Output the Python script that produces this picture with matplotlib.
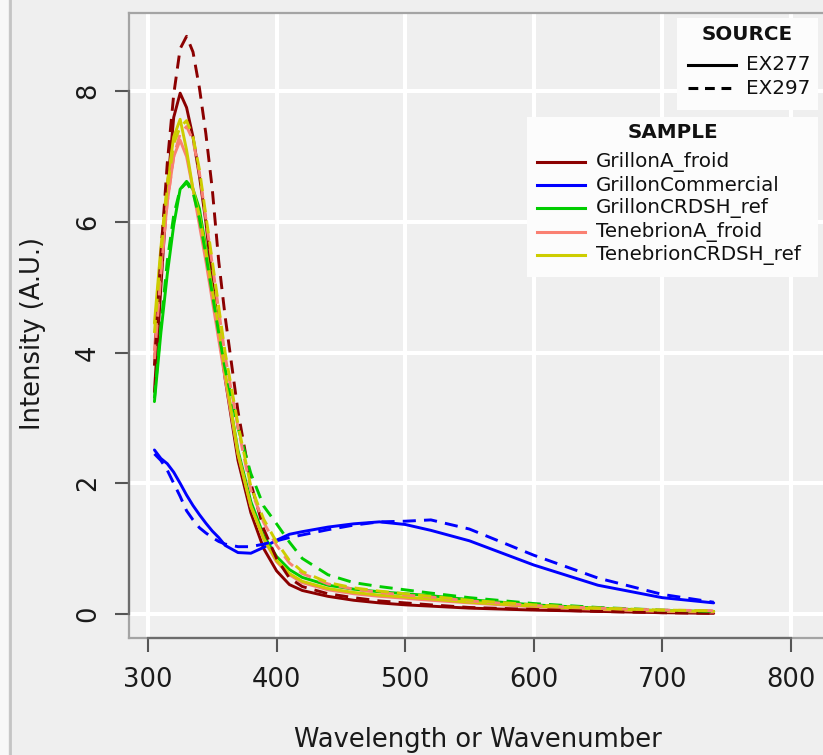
import matplotlib
matplotlib.use("Agg")
import matplotlib.pyplot as plt
from matplotlib.lines import Line2D
from matplotlib.patches import Rectangle

# ---------------- data ----------------
wavelength = [305, 310, 315, 320, 325, 330, 335, 340, 345, 350, 355, 360, 370, 380,
              390, 400, 410, 420, 440, 460, 480, 500, 520, 550, 600, 650, 700, 740]

samples = ["GrillonA_froid", "GrillonCommercial", "GrillonCRDSH_ref",
           "TenebrionA_froid", "TenebrionCRDSH_ref"]
sources = ["EX277", "EX297"]

grillonA_ex277 = [3.40, 5.0, 6.5, 7.6, 7.97, 7.75, 7.3, 6.7, 6.0, 5.1, 4.35, 3.6, 2.35, 1.55,
                  1.0, 0.66, 0.45, 0.36, 0.27, 0.21, 0.17, 0.14, 0.12, 0.09, 0.06, 0.04, 0.02, 0.01]
grillonA_ex297 = [3.8, 5.5, 6.9, 7.95, 8.65, 8.84, 8.6, 8.05, 7.35, 6.5, 5.4, 4.55, 3.1, 2.0,
                  1.3, 0.85, 0.55, 0.42, 0.31, 0.25, 0.2, 0.17, 0.14, 0.1, 0.07, 0.04, 0.02, 0.01]
grillonCom_ex277 = [2.51, 2.38, 2.3, 2.17, 2.0, 1.82, 1.66, 1.52, 1.39, 1.27, 1.17, 1.05, 0.94, 0.93,
                    1.02, 1.13, 1.22, 1.26, 1.33, 1.38, 1.41, 1.37, 1.28, 1.12, 0.75, 0.44, 0.25, 0.17]
grillonCom_ex297 = [2.45, 2.35, 2.2, 2.0, 1.8, 1.58, 1.44, 1.32, 1.24, 1.17, 1.11, 1.07, 1.03, 1.03,
                    1.07, 1.12, 1.17, 1.21, 1.29, 1.36, 1.41, 1.42, 1.44, 1.3, 0.9, 0.55, 0.3, 0.18]
grillonCRDSH_ex277 = [3.25, 4.3, 5.2, 5.95, 6.5, 6.62, 6.5, 6.2, 5.6, 4.95, 4.3, 3.65, 2.5, 1.72,
                      1.2, 0.88, 0.68, 0.56, 0.44, 0.38, 0.34, 0.31, 0.28, 0.22, 0.14, 0.09, 0.05, 0.04]
grillonCRDSH_ex297 = [3.3, 4.4, 5.4, 6.1, 6.5, 6.6, 6.45, 6.05, 5.5, 4.9, 4.3, 3.75, 2.85, 2.15,
                      1.65, 1.38, 1.1, 0.85, 0.6, 0.48, 0.42, 0.37, 0.32, 0.25, 0.16, 0.1, 0.06, 0.04]
tenebrionA_ex277 = [4.04, 5.3, 6.3, 7.0, 7.25, 7.0, 6.5, 5.95, 5.4, 4.8, 4.2, 3.6, 2.45, 1.65,
                    1.15, 0.8, 0.6, 0.48, 0.37, 0.31, 0.27, 0.24, 0.21, 0.17, 0.11, 0.07, 0.04, 0.03]
tenebrionA_ex297 = [3.9, 5.2, 6.3, 7.0, 7.35, 7.46, 7.25, 6.75, 6.05, 5.35, 4.65, 3.95, 2.85, 1.9,
                    1.4, 1.05, 0.78, 0.62, 0.46, 0.38, 0.33, 0.29, 0.26, 0.2, 0.13, 0.09, 0.06, 0.05]
tenebrionCRDSH_ex277 = [4.45, 5.6, 6.6, 7.3, 7.57, 7.1, 6.5, 6.1, 5.55, 4.95, 4.4, 3.7, 2.45, 1.65,
                        1.15, 0.82, 0.62, 0.5, 0.39, 0.33, 0.29, 0.26, 0.23, 0.18, 0.12, 0.08, 0.05, 0.04]
tenebrionCRDSH_ex297 = [4.3, 5.5, 6.5, 7.2, 7.45, 7.55, 7.3, 6.8, 6.1, 5.4, 4.7, 4.0, 2.9, 1.95,
                        1.45, 1.1, 0.82, 0.65, 0.48, 0.4, 0.35, 0.31, 0.27, 0.21, 0.14, 0.09, 0.06, 0.05]

series_ex277 = [grillonA_ex277, grillonCom_ex277, grillonCRDSH_ex277, tenebrionA_ex277, tenebrionCRDSH_ex277]
series_ex297 = [grillonA_ex297, grillonCom_ex297, grillonCRDSH_ex297, tenebrionA_ex297, tenebrionCRDSH_ex297]

sample_colors = ["#8B0000", "#0000FF", "#00CD00", "#FA8072", "#CDCD00"]

x_ticks = [300, 400, 500, 600, 700, 800]
y_ticks = [0, 2, 4, 6, 8]

# ---------------- figure ----------------
W, H = 823, 755
BG = "#efefef"
fig = plt.figure(figsize=(W / 100, H / 100), dpi=100, facecolor=BG)

def fx(px):
    return px / W

def fy(py):
    return 1 - py / H

# left window border strip
fig.add_artist(Rectangle((0, 0), fx(8), 1, transform=fig.transFigure,
                         facecolor="#f8f8f8", edgecolor="none"))
fig.add_artist(Line2D([fx(9.5), fx(9.5)], [0, 1], transform=fig.transFigure,
                      color="#c4c4c4", lw=2))

ax_left, ax_right, ax_top, ax_bot = 129, 823, 13, 638
ax = fig.add_axes([fx(ax_left), fy(ax_bot), fx(ax_right - ax_left), (ax_bot - ax_top) / H])
ax.set_facecolor(BG)

px_per_x = 1.2857
px_per_y = 65.35
x0 = 300 - (148 - ax_left) / px_per_x
y0 = 0 - (ax_bot - 614) / px_per_y
ax.set_xlim(x0, x0 + (ax_right - ax_left) / px_per_x)
ax.set_ylim(y0, y0 + (ax_bot - ax_top) / px_per_y)

ax.set_xticks(x_ticks)
ax.set_yticks(y_ticks)
ax.grid(True, color="white", lw=2.9, zorder=0)
ax.set_axisbelow(True)

LW = 2.1
for vals, col in zip(series_ex277, sample_colors):
    ax.plot(wavelength, vals, color=col, lw=LW, solid_capstyle="round",
            solid_joinstyle="round", zorder=3)
for vals, col in zip(series_ex297, sample_colors):
    ax.plot(wavelength, vals, color=col, lw=LW, linestyle=(0, (4.5, 2.8)),
            dash_joinstyle="round", zorder=3)

# box and axis lines
ax.spines["right"].set_visible(False)
ax.spines["top"].set_color("#a4a4a4")
ax.spines["top"].set_linewidth(1.6)
for s in ["left", "bottom"]:
    ax.spines[s].set_color("#6c6c6c")
    ax.spines[s].set_linewidth(1.6)
    ax.spines[s].set_zorder(5)
ax.spines["left"].set_bounds(y_ticks[0], y_ticks[-1])
ax.spines["bottom"].set_bounds(x_ticks[0], x_ticks[-1])
ax.add_artist(Line2D([0, 0], [0, 1], transform=ax.transAxes, color="#a4a4a4", lw=1.6,
                     clip_on=False, zorder=4))
ax.add_artist(Line2D([0, 1], [0, 0], transform=ax.transAxes, color="#a4a4a4", lw=1.6,
                     clip_on=False, zorder=4))

ax.tick_params(direction="out", length=10, width=1.5, color="#555555",
               labelsize=18.5, labelcolor="#1a1a1a")
ax.tick_params(axis="x", pad=11)
ax.tick_params(axis="y", pad=10, labelrotation=90)
for lab in ax.get_yticklabels():
    lab.set_va("center")

fig.text(fx(478), fy(740), "Wavelength or Wavenumber", ha="center", va="center",
         fontsize=18.5, color="#1a1a1a")
fig.text(fx(33), fy(334), "Intensity (A.U.)", ha="center", va="center",
         rotation=90, fontsize=18.5, color="#1a1a1a")

# ---------------- legends (drawn in pixel positions) ----------------
LFS = 14.3
def legend_box(xl, yt, xr, yb):
    fig.add_artist(Rectangle((fx(xl), fy(yb)), fx(xr - xl), (yb - yt) / H,
                             transform=fig.transFigure, facecolor="#fcfcfc",
                             edgecolor="none", zorder=6))

legend_box(677, 18, 818, 110)
fig.text(fx(747), fy(35), "SOURCE", ha="center", va="center", fontsize=LFS,
         fontweight="bold", color="#111111", zorder=7)
for i, (src, ls) in enumerate(zip(sources, ["-", (0, (3.2, 2.2))])):
    yy = 65 + i * 23
    fig.add_artist(Line2D([fx(688), fx(736)], [fy(yy), fy(yy)], transform=fig.transFigure,
                          color="black", lw=2.2, linestyle=ls, zorder=7))
    fig.text(fx(746), fy(yy), src, ha="left", va="center", fontsize=LFS,
             color="#111111", zorder=7)

legend_box(527, 117, 818, 277)
fig.text(fx(673), fy(133), "SAMPLE", ha="center", va="center", fontsize=LFS,
         fontweight="bold", color="#111111", zorder=7)
for i, (name, col) in enumerate(zip(samples, sample_colors)):
    yy = 162 + i * 23.2
    fig.add_artist(Line2D([fx(537), fx(585)], [fy(yy), fy(yy)], transform=fig.transFigure,
                          color=col, lw=2.2, zorder=7))
    fig.text(fx(596), fy(yy), name, ha="left", va="center", fontsize=LFS,
             color="#111111", zorder=7)

fig.savefig("out.png", dpi=100, facecolor=BG)
